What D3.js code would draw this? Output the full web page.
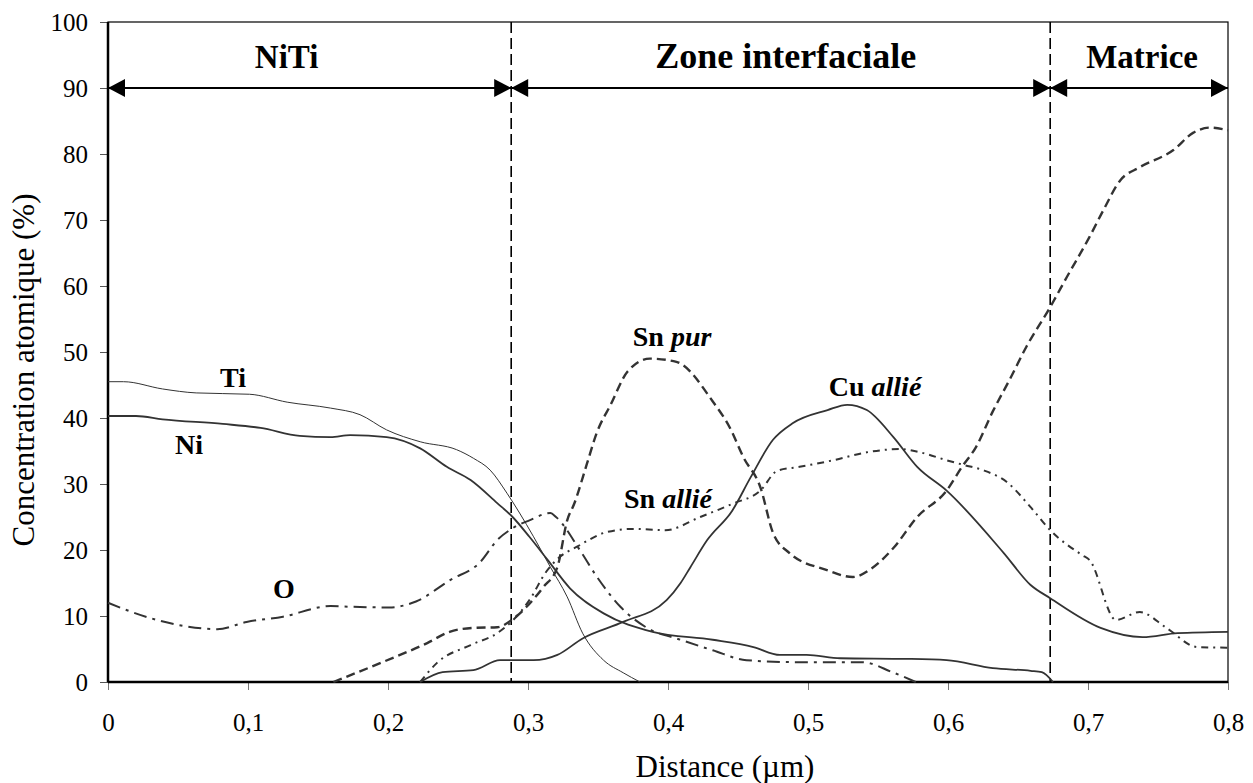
<!DOCTYPE html>
<html>
<head>
  <meta charset="utf-8">
  <title>profil</title>
  <style>
    * { margin: 0; padding: 0; }
    body { background: #fff; }
    svg text { font-family: "Liberation Serif", "Times New Roman", serif; fill: #000; }
    .tick text { font-size: 25px; }
    .lbl { font-size: 28px; font-weight: bold; }
    .zone { font-size: 33px; font-weight: bold; }
    .title { font-size: 31px; }
  </style>
</head>
<body>
  <svg id="svg"></svg>
  <script src="https://cdnjs.cloudflare.com/ajax/libs/d3/7.8.5/d3.min.js"></script>
  <script>
    // valeurs
    const tiX = [0, 0.011, 0.039, 0.063, 0.101, 0.128, 0.159, 0.18, 0.199, 0.223, 0.249, 0.261, 0.273, 0.285, 0.294, 0.304, 0.316, 0.328, 0.339, 0.354, 0.368, 0.38]
    const tiY = [45.5, 45.5, 44.4, 43.8, 43.6, 42.4, 41.5, 40.5, 38.2, 36.4, 35.2, 33.9, 32.1, 28.6, 25.6, 22, 17.4, 12.9, 7.4, 3.3, 1.4, 0]

    const niX = [0, 0.02, 0.039, 0.082, 0.109, 0.137, 0.159, 0.173, 0.199, 0.223, 0.242, 0.259, 0.278, 0.289, 0.301, 0.314, 0.33, 0.354, 0.389, 0.432, 0.461, 0.48, 0.499, 0.523, 0.571, 0.599, 0.632, 0.659, 0.667, 0.675]
    const niY = [40.3, 40.3, 39.8, 39.1, 38.5, 37.3, 37.1, 37.4, 37.1, 35.4, 32.6, 30.6, 27.1, 25, 22, 18.5, 14.2, 10.4, 7.6, 6.4, 5.3, 4.1, 4.1, 3.6, 3.5, 3.3, 2.1, 1.7, 1.5, 0]

    const oX = [0, 0.03, 0.054, 0.078, 0.099, 0.125, 0.159, 0.173, 0.201, 0.22, 0.244, 0.266, 0.278, 0.289, 0.301, 0.316, 0.32, 0.337, 0.349, 0.366, 0.385, 0.409, 0.432, 0.456, 0.494, 0.539, 0.56, 0.577]
    const oY = [12, 9.7, 8.5, 8, 9.1, 9.9, 11.5, 11.4, 11.3, 12.2, 15.4, 18.2, 21.5, 23.3, 24.5, 25.6, 25, 20, 16, 11.4, 8.2, 6.4, 4.8, 3.3, 3, 3, 1.5, 0]

    const snPurX = [0.161, 0.196, 0.228, 0.244, 0.261, 0.278, 0.289, 0.299, 0.311, 0.321, 0.328, 0.333, 0.342, 0.349, 0.359, 0.371, 0.387, 0.406, 0.432, 0.444, 0.454, 0.466, 0.475, 0.487, 0.513, 0.532, 0.544, 0.561, 0.578, 0.599, 0.61, 0.62, 0.632, 0.644, 0.656, 0.673, 0.685, 0.701, 0.711, 0.723, 0.737, 0.761, 0.775, 0.787, 0.8]
    const snPurY = [0, 3, 5.9, 7.6, 8.2, 8.3, 9.5, 11.4, 14.4, 17.4, 24.5, 27, 33, 37.7, 42, 47, 49, 48.5, 42.5, 38.6, 34, 29.5, 22.6, 19.5, 17, 15.9, 17, 20.3, 25, 29, 32.6, 35.6, 41, 45.8, 50.8, 56.8, 61.4, 67.4, 71.5, 76, 78, 80.6, 83.2, 84, 83.6]

    const snAllieX = [0.223, 0.235, 0.259, 0.278, 0.289, 0.301, 0.313, 0.323, 0.335, 0.356, 0.375, 0.398, 0.423, 0.446, 0.466, 0.478, 0.494, 0.518, 0.542, 0.566, 0.58, 0.599, 0.611, 0.625, 0.642, 0.659, 0.673, 0.696, 0.701, 0.72, 0.737, 0.756, 0.778, 0.8]
    const snAllieY = [0, 2.9, 5.6, 7.4, 9.3, 12.4, 16.7, 19, 20.5, 22.7, 23.2, 23, 25, 27, 29, 32, 32.6, 33.6, 34.8, 35.3, 34.8, 33.6, 32.9, 32.1, 30.3, 26.5, 23, 19.2, 18.5, 9.4, 10.6, 8.2, 5.3, 5.2]

    const cuX = [0.223, 0.239, 0.261, 0.28, 0.304, 0.321, 0.339, 0.368, 0.399, 0.409, 0.416, 0.428, 0.446, 0.459, 0.475, 0.489, 0.514, 0.528, 0.542, 0.561, 0.578, 0.599, 0.64, 0.659, 0.673, 0.709, 0.739, 0.764, 0.8]
    const cuY = [0, 1.5, 1.8, 3.3, 3.3, 4.1, 6.6, 9.1, 12.4, 15, 17.4, 21.5, 26, 31, 36.7, 39.2, 41.2, 42, 41.2, 37.1, 32.6, 29, 19.5, 14.7, 12.7, 8.2, 6.8, 7.4, 7.6]

    const xTicks = [0, 0.1, 0.2, 0.3, 0.4, 0.5, 0.6, 0.7, 0.8]
    const yTicks = [0, 10, 20, 30, 40, 50, 60, 70, 80, 90, 100]

    const zoneBounds = [0, 0.288, 0.673, 0.8]
    const zoneNames = ['NiTi', 'Zone interfaciale', 'Matrice']

    const dimension = {
      width: 1253,
      height: 783,
      margin: { top: 22, right: 25, bottom: 101, left: 108 }
    }
    const m = dimension.margin

    const svg = d3.select('#svg').attr('width', dimension.width).attr('height', dimension.height)

    const xScale = d3.scaleLinear().domain([0, 0.8]).range([m.left, dimension.width - m.right])
    const yScale = d3.scaleLinear().domain([0, 100]).range([dimension.height - m.bottom, m.top])
    const comma = d => String(d).replace('.', ',')

    // axes
    svg.append('g')
      .attr('transform', `translate(0, ${dimension.height - m.bottom})`)
      .call(d3.axisBottom(xScale).tickValues(xTicks).tickFormat(comma).tickSize(8).tickSizeOuter(0).tickPadding(23))
      .call(g => g.select('.domain').remove())
      .call(g => g.selectAll('.tick line').attr('stroke', '#777'))

    svg.append('g')
      .attr('transform', `translate(${m.left}, 0)`)
      .call(d3.axisLeft(yScale).tickValues(yTicks).tickSize(8).tickSizeOuter(0).tickPadding(12))
      .call(g => g.select('.domain').remove())
      .call(g => g.selectAll('.tick line').attr('stroke', '#555'))

    // cadre
    svg.append('rect')
      .attr('x', xScale(0)).attr('y', yScale(100))
      .attr('width', xScale(0.8) - xScale(0)).attr('height', yScale(0) - yScale(100))
      .attr('fill', 'none').attr('stroke', '#000').attr('stroke-width', 1.2)
    svg.append('line')
      .attr('x1', xScale(0)).attr('x2', xScale(0)).attr('y1', yScale(100)).attr('y2', yScale(0))
      .attr('stroke', '#000').attr('stroke-width', 2.5)
    svg.append('line')
      .attr('x1', xScale(0)).attr('x2', xScale(0.8)).attr('y1', yScale(0)).attr('y2', yScale(0))
      .attr('stroke', '#000').attr('stroke-width', 2.5)

    svg.append('text').attr('class', 'title')
      .attr('x', 725).attr('y', 777)
      .attr('text-anchor', 'middle')
      .text('Distance (µm)')
    svg.append('text').attr('class', 'title')
      .attr('transform', `translate(34, 370) rotate(-90)`)
      .attr('text-anchor', 'middle')
      .text('Concentration atomique (%)')

    // limites des zones
    zoneBounds.slice(1, 3).forEach(b => {
      svg.append('line')
        .attr('x1', xScale(b)).attr('x2', xScale(b)).attr('y1', yScale(100)).attr('y2', yScale(0))
        .attr('stroke', '#000').attr('stroke-width', 1.6).attr('stroke-dasharray', '11,5')
    })

    // flèches
    const ay = yScale(90)
    const tri = (x, dir) => `M${x},${ay}L${x + dir * 17},${ay - 9}L${x + dir * 17},${ay + 9}Z`
    zoneNames.forEach((name, i) => {
      const x0 = xScale(zoneBounds[i]), x1 = xScale(zoneBounds[i + 1])
      svg.append('line').attr('x1', x0).attr('x2', x1).attr('y1', ay).attr('y2', ay)
        .attr('stroke', '#000').attr('stroke-width', 2)
      svg.append('path').attr('d', tri(x0, 1)).attr('fill', '#000')
      svg.append('path').attr('d', tri(x1, -1)).attr('fill', '#000')
      svg.append('text').attr('class', 'zone')
        .attr('x', (x0 + x1) / 2 + (i === 2 ? 3 : i === 0 ? -23 : 5)).attr('y', 68)
        .attr('text-anchor', 'middle')
        .style('font-size', i === 1 ? '36px' : null)
        .text(name)
    })

    // courbes
    const line = d3.line().x(d => xScale(d[0])).y(d => yScale(d[1])).curve(d3.curveMonotoneX)
    const series = [
      { xs: tiX, ys: tiY, w: 1, dash: null },
      { xs: niX, ys: niY, w: 1.8, dash: null },
      { xs: cuX, ys: cuY, w: 1.8, dash: null },
      { xs: oX, ys: oY, w: 2, dash: '13,6,3,6' },
      { xs: snPurX, ys: snPurY, w: 2.4, dash: '9,5' },
      { xs: snAllieX, ys: snAllieY, w: 2, dash: '7,5,2,5' }
    ]
    series.forEach(s => {
      svg.append('path')
        .datum(s.xs.map((x, i) => [x, s.ys[i]]))
        .attr('d', line)
        .attr('fill', 'none')
        .attr('stroke', '#333')
        .attr('stroke-width', s.w)
        .attr('stroke-dasharray', s.dash)
    })

    // étiquettes
    const labels = [
      { x: 0.0893, y: 44.7, a: 'Ti', b: '' },
      { x: 0.0579, y: 34.5, a: 'Ni', b: '' },
      { x: 0.1257, y: 12.7, a: 'O', b: '' },
      { x: 0.4029, y: 50.9, a: 'Sn ', b: 'pur' },
      { x: 0.400, y: 26.4, a: 'Sn ', b: 'allié' },
      { x: 0.5479, y: 43.3, a: 'Cu ', b: 'allié' }
    ]
    labels.forEach(l => {
      const t = svg.append('text').attr('class', 'lbl')
        .attr('x', xScale(l.x)).attr('y', yScale(l.y)).attr('text-anchor', 'middle')
      t.append('tspan').text(l.a)
      if (l.b) t.append('tspan').style('font-style', 'italic').text(l.b)
    })
  </script>
</body>
</html>
